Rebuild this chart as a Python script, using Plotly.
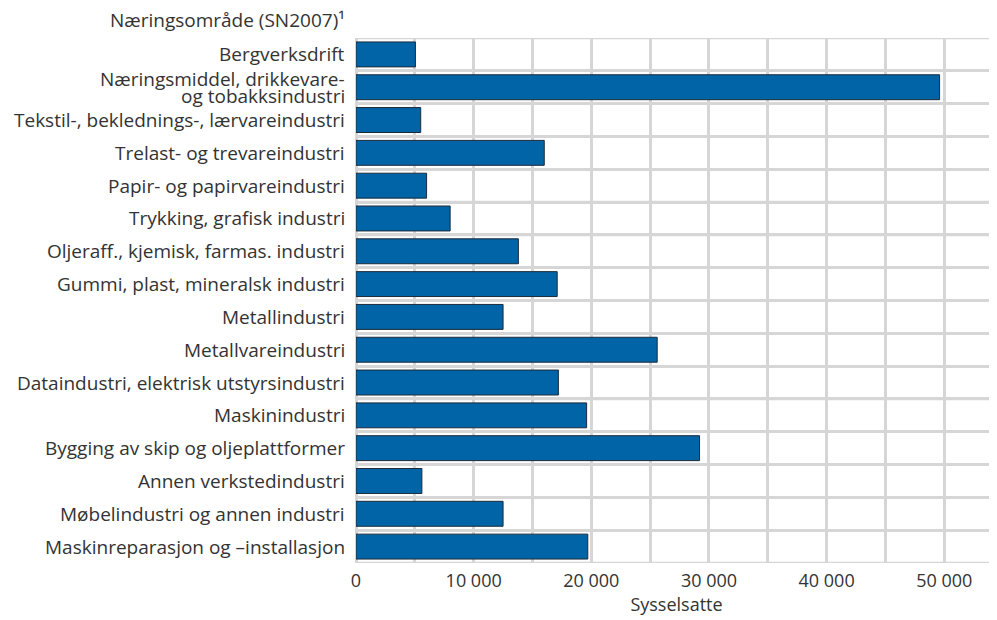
import plotly.graph_objects as go

categories = [
    "Bergverksdrift",
    "Næringsmiddel, drikkevare-<br>og tobakksindustri",
    "Tekstil-, beklednings-, lærvareindustri",
    "Trelast- og trevareindustri",
    "Papir- og papirvareindustri",
    "Trykking, grafisk industri",
    "Oljeraff., kjemisk, farmas. industri",
    "Gummi, plast, mineralsk industri",
    "Metallindustri",
    "Metallvareindustri",
    "Dataindustri, elektrisk utstyrsindustri",
    "Maskinindustri",
    "Bygging av skip og oljeplattformer",
    "Annen verkstedindustri",
    "Møbelindustri og annen industri",
    "Maskinreparasjon og –installasjon",
]
values = [5050, 49600, 5500, 16000, 6000, 8000, 13800, 17100, 12500, 25600,
          17200, 19600, 29200, 5600, 12500, 19700]

x_tickvals = [0, 5000, 10000, 15000, 20000, 25000, 30000, 35000, 40000, 45000, 50000]
x_ticktext = ["0", "", "10 000", "", "20 000", "", "30 000", "", "40 000", "", "50 000"]

FONT = "Open Sans"
TXT = "#333333"
GRID = "#d6d6d6"
GW = 2.5
FS = 19

n = len(categories)
pos = list(range(n))
boundaries = [i - 0.5 for i in range(n + 1)]

fig = go.Figure()
fig.add_trace(go.Bar(
    x=values, y=pos, orientation="h",
    customdata=categories,
    marker=dict(color="#0064a6", line=dict(color="#1c2a3a", width=1)),
    hovertemplate="%{customdata}: %{x}<extra></extra>",
))

annotations = [dict(
    text="Næringsområde (SN2007)¹",
    xref="paper", yref="paper", x=0, y=1,
    xanchor="right", yanchor="bottom", xshift=-9, yshift=3,
    showarrow=False, font=dict(family=FONT, size=FS, color=TXT),
)]
# category labels (placed at each category position on the y axis);
# multi-line labels use tight line spacing as in the original
LS = 17
for i, c in enumerate(categories):
    lines = c.split("<br>")
    m = len(lines)
    for k, ln in enumerate(lines):
        annotations.append(dict(
            text=ln, xref="paper", yref="y", x=0, y=i,
            xanchor="right", yanchor="middle", xshift=-9,
            yshift=(m - 1) / 2 * LS - k * LS,
            showarrow=False, font=dict(family=FONT, size=FS, color=TXT),
        ))

# horizontal grid lines at the category boundaries
shapes = [dict(
    type="line", xref="paper", yref="y", x0=0, x1=1, y0=b, y1=b,
    line=dict(color=GRID, width=GW), layer="below",
) for b in boundaries]

W, H = 989, 612  # page body adds an 8px offset
fig.update_layout(
    width=W, height=H,
    margin=dict(l=348, r=0, t=30, b=57, autoexpand=False),
    paper_bgcolor="white", plot_bgcolor="white",
    bargap=0.24,
    showlegend=False,
    font=dict(family=FONT, size=FS, color=TXT),
    xaxis=dict(
        range=[0, 54480],
        tickvals=x_tickvals, ticktext=x_ticktext,
        showgrid=True, gridcolor=GRID, gridwidth=GW,
        zeroline=True, zerolinecolor=GRID, zerolinewidth=GW,
        showline=False, ticks="",
        automargin=False,
        ticklabelstandoff=5,
        tickfont=dict(family=FONT, size=18, color=TXT),
        title=dict(text="Sysselsatte", font=dict(family=FONT, size=18, color=TXT), standoff=6),
        fixedrange=True,
    ),
    yaxis=dict(
        range=[n - 0.5, -0.5],
        tickmode="array", tickvals=boundaries,
        showticklabels=False,
        showgrid=True, gridcolor=GRID, gridwidth=GW,
        zeroline=False, showline=False, ticks="",
        automargin=False,
        fixedrange=True,
    ),
    annotations=annotations,
    shapes=shapes,
)

fig.write_html("out.html")
